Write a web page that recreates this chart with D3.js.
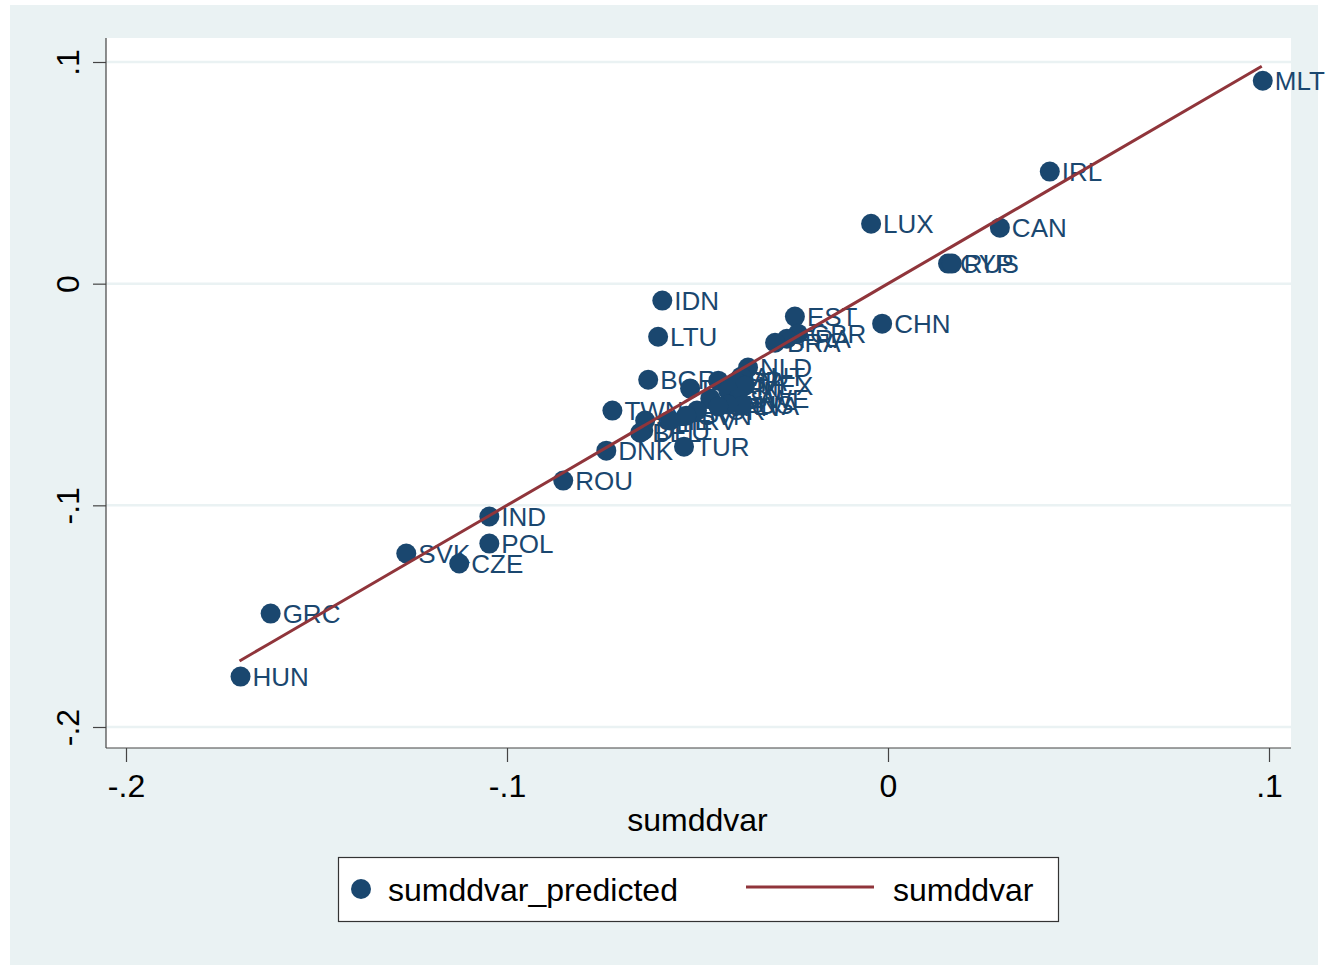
<!DOCTYPE html>
<html>
<head>
<meta charset="utf-8">
<script src="https://cdn.jsdelivr.net/npm/d3@7"></script>
<style>
  html, body { margin: 0; padding: 0; background: #ffffff; }
  svg { display: block; font-family: "Liberation Sans", Arial, sans-serif; }
</style>
</head>
<body>
<svg id="chart" width="1328" height="965"></svg>
<script>
/* Stata-style scatter of predicted vs. actual, with the 45-degree fit line */

const countries = ["MLT","IRL","LUX","CAN","CYP","RUS","IDN","LTU","EST","CHN","GBR","FRA","BRA",
  "NLD","BGR","AUT","ITA","MEX","ESP","PRT","FIN","SWE","LVA","AUS","USA","JPN","KOR","SVN","HRV",
  "CHE","DEU","BEL","TWN","DNK","TUR","ROU","IND","POL","SVK","CZE","GRC","HUN"];
const sumddvar = [0.0981,0.0422,-0.0047,0.0291,0.0155,0.0165,-0.0595,-0.0606,-0.0247,-0.0018,-0.0239,-0.0268,-0.0299,
  -0.0370,-0.0632,-0.0388,-0.0401,-0.0378,-0.0448,-0.0522,-0.0422,-0.0396,-0.0386,-0.0422,-0.0469,-0.0448,-0.0504,-0.0532,-0.0574,
  -0.0640,-0.0645,-0.0653,-0.0726,-0.0742,-0.0538,-0.0855,-0.1049,-0.1049,-0.1267,-0.1128,-0.1623,-0.1702];
const sumddvarPredicted = [0.0911,0.0501,0.0266,0.0248,0.0086,0.0086,-0.0081,-0.0244,-0.0153,-0.0185,-0.0230,-0.0253,-0.0271,
  -0.0383,-0.0438,-0.0424,-0.0447,-0.0465,-0.0442,-0.0478,-0.0487,-0.0523,-0.0555,-0.0550,-0.0523,-0.0559,-0.0577,-0.0600,-0.0622,
  -0.0622,-0.0668,-0.0677,-0.0577,-0.0758,-0.0740,-0.0893,-0.1055,-0.1177,-0.1222,-0.1267,-0.1493,-0.1777];
const xTicks = [-0.2, -0.1, 0, 0.1];
const yTicks = [-0.2, -0.1, 0, 0.1];
const xTitle = "sumddvar";
const legendLabels = ["sumddvar_predicted", "sumddvar"];

const NAVY = "#1a476f";
const MAROON = "#90353b";
const BG = "#eaf2f3";

const svg = d3.select("#chart");

// outer graph region
svg.append("rect").attr("x", 10).attr("y", 5).attr("width", 1308).attr("height", 960).attr("fill", BG);

// plot region
const plot = { left: 106, top: 38, right: 1291, bottom: 748 };
svg.append("rect")
  .attr("x", plot.left).attr("y", plot.top)
  .attr("width", plot.right - plot.left).attr("height", plot.bottom - plot.top)
  .attr("fill", "#ffffff");

const x = d3.scaleLinear().domain([-0.2, 0.1]).range([126, 1269]);
const y = d3.scaleLinear().domain([-0.2, 0.1]).range([727, 62]);

// Stata style: "-.1", ".1", "0" with a plain hyphen
const fmt = v => v === 0 ? "0" : String(+v.toFixed(1)).replace("0.", ".");

// grid lines
svg.append("g").selectAll("line").data(yTicks).enter().append("line")
  .attr("x1", plot.left).attr("x2", plot.right)
  .attr("y1", d => y(d)).attr("y2", d => y(d))
  .attr("stroke", BG).attr("stroke-width", 2.5);

// y axis
const yAxis = svg.append("g")
  .attr("transform", `translate(${plot.left},0)`)
  .call(d3.axisLeft(y).tickValues(yTicks).tickSize(13).tickPadding(0).tickFormat(fmt));
yAxis.select(".domain").remove();
yAxis.selectAll(".tick line").attr("stroke", "#444").attr("stroke-width", 1.2);
yAxis.selectAll(".tick text")
  .attr("font-size", 32).attr("fill", "#000")
  .attr("text-anchor", "middle")
  .attr("transform", "translate(-38,0) rotate(-90)")
  .attr("x", 0).attr("dy", "0.35em");
svg.append("line")
  .attr("x1", plot.left).attr("x2", plot.left)
  .attr("y1", plot.top).attr("y2", plot.bottom)
  .attr("stroke", "#444").attr("stroke-width", 1.2);

// x axis
const xAxis = svg.append("g")
  .attr("transform", `translate(0,${plot.bottom})`)
  .call(d3.axisBottom(x).tickValues(xTicks).tickSize(14).tickPadding(12).tickFormat(fmt));
xAxis.select(".domain").remove();
xAxis.selectAll(".tick line").attr("stroke", "#444").attr("stroke-width", 1.2);
xAxis.selectAll(".tick text").attr("font-size", 32).attr("fill", "#000");
svg.append("line")
  .attr("x1", plot.left).attr("x2", plot.right)
  .attr("y1", plot.bottom).attr("y2", plot.bottom)
  .attr("stroke", "#444").attr("stroke-width", 1.2);

svg.append("text")
  .attr("x", (x(-0.2) + x(0.1)) / 2).attr("y", 831)
  .attr("text-anchor", "middle").attr("font-size", 32).attr("fill", "#000")
  .text(xTitle);

// points with labels
const pts = countries.map((c, i) => ({ c, x: sumddvar[i], y: sumddvarPredicted[i] }));

const pg = svg.append("g");
pg.selectAll("circle").data(pts).enter().append("circle")
  .attr("cx", d => x(d.x) + 1).attr("cy", d => y(d.y) - 1).attr("r", 10)
  .attr("fill", NAVY);
pg.selectAll("text").data(pts).enter().append("text")
  .attr("x", d => x(d.x) + 13).attr("y", d => y(d.y) - 1)
  .attr("dy", "0.36em").attr("font-size", 26).attr("fill", NAVY)
  .text(d => d.c);

// 45-degree line: sumddvar against itself
const lineData = sumddvar.slice().sort((a, b) => a - b);
svg.append("path")
  .datum(lineData)
  .attr("fill", "none").attr("stroke", MAROON).attr("stroke-width", 3)
  .attr("d", d3.line().x(d => x(d)).y(d => y(d)));

// legend
const lg = svg.append("g");
lg.append("rect").attr("x", 338.5).attr("y", 857.5).attr("width", 720).attr("height", 64)
  .attr("fill", "#ffffff").attr("stroke", "#333").attr("stroke-width", 1.2);
lg.append("circle").attr("cx", 361).attr("cy", 889).attr("r", 10).attr("fill", NAVY);
lg.append("text").attr("x", 388).attr("y", 901).attr("font-size", 32).attr("fill", "#000").text(legendLabels[0]);
lg.append("line").attr("x1", 746).attr("x2", 874).attr("y1", 887).attr("y2", 887)
  .attr("stroke", MAROON).attr("stroke-width", 3);
lg.append("text").attr("x", 893).attr("y", 901).attr("font-size", 32).attr("fill", "#000").text(legendLabels[1]);
</script>
</body>
</html>
